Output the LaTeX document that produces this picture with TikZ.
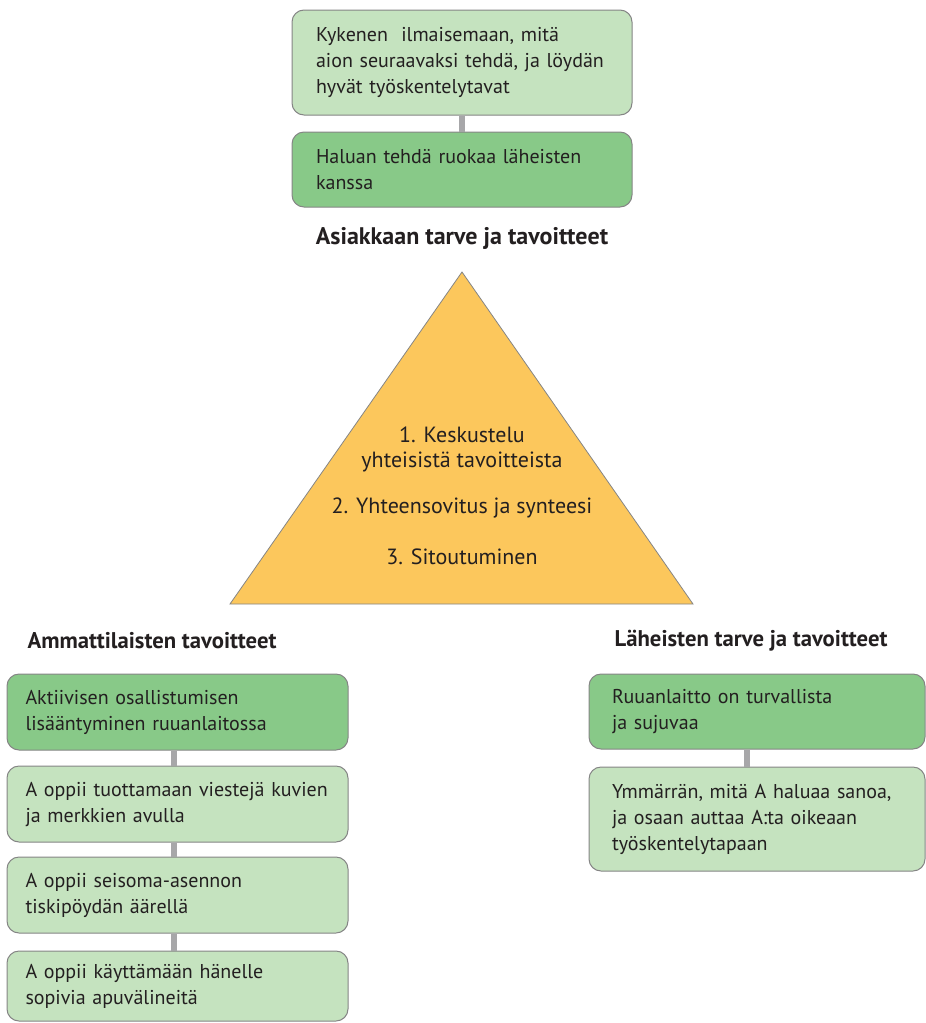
\documentclass[tikz,border=0pt]{standalone}
\usepackage{fontspec}
\setmainfont{PT Sans}
\hyphenpenalty=10000\relax
\definecolor{lightg}{HTML}{C5E3BF}
\definecolor{darkg}{HTML}{88C988}
\definecolor{tri}{HTML}{FCC75C}
\definecolor{bord}{HTML}{858585}
\definecolor{conn}{HTML}{A7A7A9}
\definecolor{txt}{HTML}{231F20}
\tikzset{
  box/.style={draw=bord, line width=1pt, rounded corners=12pt, align=left,
    inner xsep=0pt, inner ysep=0pt, font=\fontsize{20}{26}\selectfont, text=txt, anchor=center},
  lbox/.style={box, fill=lightg},
  dbox/.style={box, fill=darkg},
  link/.style={draw=conn, line width=6pt},
  head/.style={font=\fontsize{24}{27}\selectfont\bfseries, text=txt},
  sidehead/.style={font=\fontsize{22.7}{27}\selectfont\bfseries, text=txt, anchor=west},
  tritext/.style={font=\fontsize{22}{25}\selectfont, text=txt, align=center}
}
\begin{document}
\begin{tikzpicture}[x=1pt,y=-1pt]
\useasboundingbox (0,0) rectangle (926,1023);
% top
\node[lbox, minimum width=340pt, minimum height=105pt, text width=292pt] (t1) at (462,62.5)
  {Kykenen\ \ ilmaisemaan, mitä\\aion seuraavaksi tehdä, ja löydän\\hyvät työskentelytavat};
\node[dbox, minimum width=340pt, minimum height=75pt, text width=292pt] (t2) at (462,169.5)
  {Haluan tehdä ruokaa läheisten\\kanssa};
\draw[link] (t1.south) -- (t2.north);
\node[head] (h1) at (462,238) {Asiakkaan tarve ja tavoitteet};
% triangle
\draw[fill=tri, draw=bord, line width=0.8pt] (462,272) -- (693,604) -- (230,604) -- cycle;
\node[tritext] (p1) at (462,449) {1. Keskustelu\\yhteisistä tavoitteista};
\node[tritext] (p2) at (462,508) {2. Yhteensovitus ja synteesi};
\node[tritext] (p3) at (462,557) {3. Sitoutuminen};
% left
\node[sidehead] (h2) at (24,641) {Ammattilaisten tavoitteet};
\node[dbox, minimum width=341pt, minimum height=76pt, text width=304pt] (l1) at (177.5,712)
  {Aktiivisen osallistumisen\\lisääntyminen ruuanlaitossa};
\node[lbox, minimum width=341pt, minimum height=76pt, text width=304pt] (l2) at (177.5,804)
  {A oppii tuottamaan viestejä kuvien\\ja merkkien avulla};
\node[lbox, minimum width=341pt, minimum height=76pt, text width=304pt] (l3) at (177.5,895)
  {A oppii seisoma-asennon\\tiskipöydän äärellä};
\node[lbox, minimum width=341pt, minimum height=70pt, text width=304pt] (l4) at (177.5,986)
  {A oppii käyttämään hänelle\\sopivia apuvälineitä};
\draw[link] ([xshift=-4pt]l1.south) -- ([xshift=-4pt]l2.north);
\draw[link] ([xshift=-4pt]l2.south) -- ([xshift=-4pt]l3.north);
\draw[link] ([xshift=-4pt]l3.south) -- ([xshift=-4pt]l4.north);
% right
\node[sidehead] (h3) at (611,641) {Läheisten tarve ja tavoitteet};
\node[dbox, minimum width=336pt, minimum height=75pt, text width=290pt] (r1) at (757,711.5)
  {Ruuanlaitto on turvallista\\ja sujuvaa};
\node[lbox, minimum width=336pt, minimum height=104pt, text width=290pt] (r2) at (757,819)
  {Ymmärrän, mitä A haluaa sanoa,\\ja osaan auttaa A:ta oikeaan\\työskentelytapaan};
\draw[link] ([xshift=-10pt]r1.south) -- ([xshift=-10pt]r2.north);
\end{tikzpicture}
\end{document}
